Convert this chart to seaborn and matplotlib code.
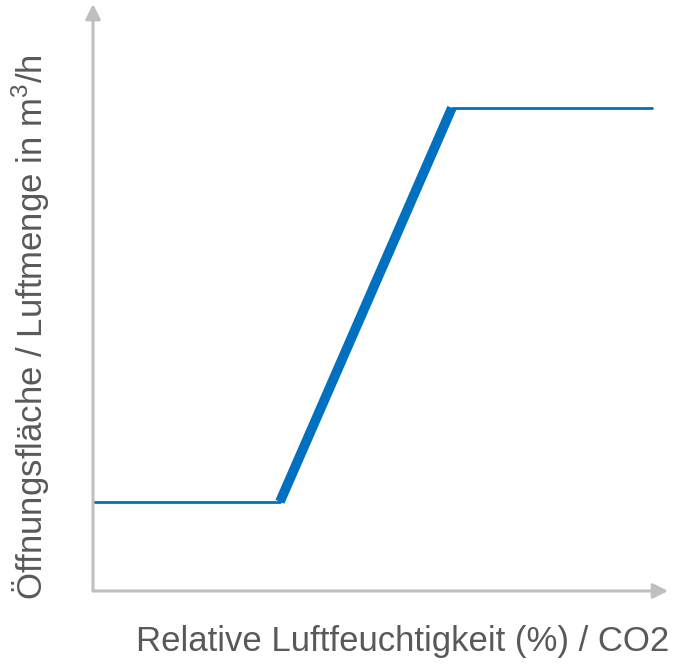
import matplotlib
matplotlib.use("Agg")
import matplotlib.pyplot as plt
import seaborn as sns

# ------------------------------------------------------------------
# Data: control curve (relative units, 0..100 on both axes)
# ------------------------------------------------------------------
low_x = [0.0, 32.5]
low_y = [15.2, 15.2]
ramp_x = [32.5, 62.4]
ramp_y = [15.2, 82.3]
high_x = [62.4, 97.2]
high_y = [82.3, 82.3]

x_label = "Relative Luftfeuchtigkeit (%) / CO2"
y_label = "Öffnungsfläche / Luftmenge in m$^{3}$/h"

BLUE = "#0070c0"
GREY = "#bfbfbf"
TEXT = "#595959"

sns.set_style("white")
plt.rcParams["font.family"] = ["Liberation Sans", "DejaVu Sans"]
plt.rcParams["mathtext.fontset"] = "custom"
plt.rcParams["mathtext.rm"] = "Liberation Sans"

fig = plt.figure(figsize=(6.79, 6.64), dpi=100)
ax = fig.add_axes([0.137, 0.110, 0.847, 0.884])

sns.lineplot(x=low_x, y=low_y, ax=ax, color=BLUE, linewidth=2.0)
sns.lineplot(x=ramp_x, y=ramp_y, ax=ax, color=BLUE, linewidth=7.0,
             solid_capstyle="butt")
sns.lineplot(x=high_x, y=high_y, ax=ax, color=BLUE, linewidth=2.0)

ax.set_xlim(0, 100)
ax.set_ylim(0, 100)
ax.set_xticks([])
ax.set_yticks([])
for s in ax.spines.values():
    s.set_visible(False)

# axis arrows
arrow = dict(arrowstyle="-|>,head_length=0.9,head_width=0.45", color=GREY,
             lw=2.2, shrinkA=0, shrinkB=0)
ax.annotate("", xy=(0, 1.0), xytext=(0, 0), xycoords="axes fraction",
            arrowprops=arrow, annotation_clip=False)
ax.annotate("", xy=(1.0, 0), xytext=(0, 0), xycoords="axes fraction",
            arrowprops=arrow, annotation_clip=False)

fig.text(0.985, 0.020, x_label, ha="right", va="baseline", fontsize=25,
         color=TEXT)
fig.text(0.045, 0.507, y_label, ha="center", va="center", rotation=90,
         fontsize=25, color=TEXT)

fig.savefig("out.png", dpi=100)
